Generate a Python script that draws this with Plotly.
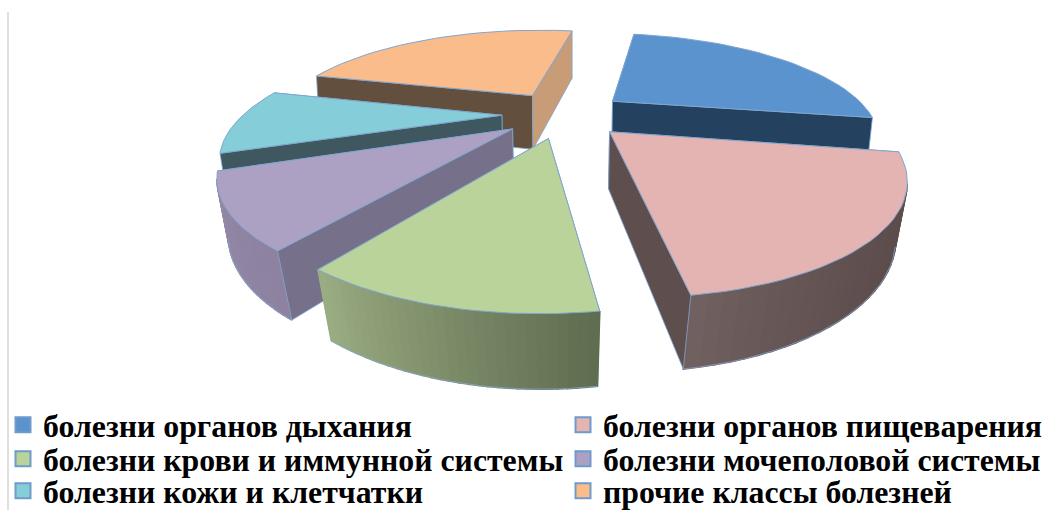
import numpy as np
import plotly.graph_objects as go

# Disease classes and their shares, percent
categories = [
    "болезни органов дыхания",
    "болезни органов пищеварения",
    "болезни крови и иммунной системы",
    "болезни мочеполовой системы",
    "болезни кожи и клетчатки",
    "прочие классы болезней",
]
shares = [25.0, 20.0, 11.9, 9.7, 9.6, 23.8]

# Face colours per slice
top_colors = ["#5B93CE", "#E3B4B2", "#B9D39A", "#ADA1C3", "#85CDD9", "#F9BC8A"]
start_face = ["#24425F", "#5E4E4E", "#66735A", "#77708A", "#3F585F", "#634F3E"]
end_face = ["#24425F", "#5E4E4E", "#66735A", "#77708A", "#3F585F", "#C79C76"]
rim_from = ["#24425F", "#5C4C4C", "#5F6D50", "#8D82A0", "#3F585F", "#C79C76"]
rim_to = ["#24425F", "#716060", "#9AAC82", "#9488A6", "#3F585F", "#C79C76"]
rim_curve = [1, 3, 1, 1, 1, 1]
EDGE = "#7FA6D0"

# Perspective camera for the tilted disc
START_DEG = 10.0
EXPLODE = 0.24
CX, CY, RX, RY, PERSP = 564.0, 114.0, 258.0, 97.0, 0.325


def project(x, y):
    w = 1 - PERSP * y
    return CX + RX * x / w, CY + RY * y / w


def extrude(sx, sy):
    # The base lies below the top face; verticals converge slightly downward
    sx, sy = np.asarray(sx, float), np.asarray(sy, float)
    shrink = 0.000225 * (sy - 29)
    return CX + (sx - CX) * (1 - shrink), sy + 47 + 0.1 * (sy - 29)


def mix(c0, c1, t):
    a = [int(c0[i:i + 2], 16) for i in (1, 3, 5)]
    b = [int(c1[i:i + 2], 16) for i in (1, 3, 5)]
    return "#" + "".join(f"{round(p + (q - p) * t):02X}" for p, q in zip(a, b))


def polygon(xs, ys, fill, edge=None, width=1.0):
    return go.Scatter(
        x=list(xs) + [xs[0]], y=list(ys) + [ys[0]], mode="lines", fill="toself",
        fillcolor=fill, line=dict(color=edge or fill, width=width),
        hoverinfo="skip", showlegend=False,
    )


def faces_viewer(px, py, ex, ey, ix, iy):
    # A radial wall shows when the slice interior lies on the far side of its top edge
    side_interior = (ex - px) * (iy - py) - (ey - py) * (ix - px)
    side_down = ex - px
    return side_interior * side_down < 0


fractions = np.asarray(shares) / sum(shares)
bounds = np.radians(START_DEG) + 2 * np.pi * np.concatenate([[0], np.cumsum(fractions)])

slices = []
for i in range(len(shares)):
    t0, t1 = bounds[i], bounds[i + 1]
    mid = (t0 + t1) / 2
    ax, ay = EXPLODE * np.sin(mid), -EXPLODE * np.cos(mid)
    th = np.linspace(t0, t1, 31)
    rx, ry = project(ax + np.sin(th), ay - np.cos(th))
    px, py = project(ax, ay)
    slices.append(dict(i=i, rx=rx, ry=ry, px=float(px), py=float(py)))

fig = go.Figure()
# Painter's order, far slices first
for s in sorted(slices, key=lambda d: d["py"]):
    i, rx, ry, px, py = s["i"], s["rx"], s["ry"], s["px"], s["py"]
    bx, by = extrude(rx, ry)
    qx, qy = extrude(px, py)
    qx, qy = float(qx), float(qy)
    ix, iy = rx[15], ry[15]
    walls = [(0, start_face[i]), (-1, end_face[i])]
    shown = [faces_viewer(px, py, rx[k], ry[k], ix, iy) for k, _ in walls]
    for (k, col), vis in zip(walls, shown):
        if not vis:
            fig.add_trace(polygon([px, rx[k], bx[k], qx], [py, ry[k], by[k], qy], col, EDGE, 0.8))
    # Rim as narrow strips for the shading across it; only the part running
    # right to left along the near side faces the viewer
    front = [k for k in range(len(rx) - 1) if rx[k + 1] < rx[k]]
    for k in front:
        tt = (k / (len(rx) - 2)) ** rim_curve[i]
        col = mix(rim_from[i], rim_to[i], tt)
        fig.add_trace(polygon(
            [rx[k], rx[k + 1], bx[k + 1], bx[k]],
            [ry[k], ry[k + 1], by[k + 1], by[k]], col, None, 1.6))
    if front:
        arc = front + [front[-1] + 1]
        fig.add_trace(go.Scatter(x=bx[arc], y=by[arc], mode="lines",
                                 line=dict(color=EDGE, width=0.8),
                                 hoverinfo="skip", showlegend=False))
    for (k, col), vis in zip(walls, shown):
        if vis:
            fig.add_trace(polygon([px, rx[k], bx[k], qx], [py, ry[k], by[k], qy], col, EDGE, 0.8))
    fig.add_trace(polygon([px, *rx], [py, *ry], top_colors[i], EDGE, 1.0))

# One legend per entry: two columns, three rows
COLUMN_X = [8, 568]
ROW_Y = [425, 459, 491]
legend_layout = {}
for n, (name, col) in enumerate(zip(categories, top_colors)):
    key = "legend" if n == 0 else f"legend{n + 1}"
    fig.add_trace(go.Scatter(
        x=[None], y=[None], mode="markers", name=name, legend=key,
        marker=dict(symbol="square", size=15, color=col, line=dict(color="#6E9BCB", width=2)),
    ))
    legend_layout[key] = dict(
        x=COLUMN_X[n % 2] / 1045, y=1 - ROW_Y[n // 2] / 510,
        xanchor="left", yanchor="middle", indentation=-5,
        bgcolor="rgba(0,0,0,0)", borderwidth=0,
        font=dict(family="Liberation Serif", size=31.8, color="black", weight="bold"),
    )

fig.update_layout(
    width=1045, height=510,
    margin=dict(l=0, r=0, t=0, b=0, autoexpand=False),
    paper_bgcolor="white", plot_bgcolor="white",
    xaxis=dict(range=[0, 1045], visible=False, fixedrange=True),
    yaxis=dict(range=[510, 0], visible=False, fixedrange=True),
    shapes=[dict(type="line", xref="paper", yref="paper", x0=8 / 1045, x1=8 / 1045,
                 y0=0, y1=1 - 12 / 510, line=dict(color="#BFBFBF", width=1))],
    showlegend=True,
    **legend_layout,
)
fig.write_html("out.html")
